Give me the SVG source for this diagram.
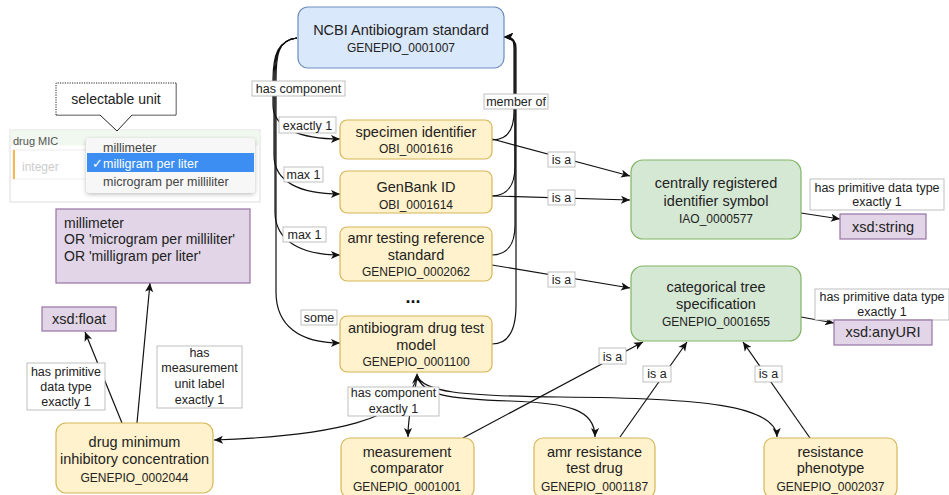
<svg xmlns="http://www.w3.org/2000/svg" width="949" height="495" viewBox="0 0 949 495">
<defs>
<marker id="arr" viewBox="0 0 10 10" refX="10" refY="5" markerWidth="9" markerHeight="9" markerUnits="userSpaceOnUse" orient="auto">
<path d="M0,0.5 L10,5 L0,9.5 L2.5,5 z" fill="#111"/>
</marker>
<filter id="shadow" x="-10%" y="-20%" width="120%" height="150%">
<feDropShadow dx="0" dy="1.5" stdDeviation="2" flood-color="#000" flood-opacity="0.25"/>
</filter>
</defs>
<style>
text{font-family:"Liberation Sans",Arial,Helvetica,sans-serif;fill:#222}
.t{font-size:14.5px;text-anchor:middle}
.id{font-size:12px;text-anchor:middle}
.lb{font-size:12.5px;text-anchor:middle}
.yel{fill:#fff2cc;stroke:#d6b656;stroke-width:1.2}
.grn{fill:#d5e8d4;stroke:#82b366;stroke-width:1.2}
.blu{fill:#dae8fc;stroke:#6c8ebf;stroke-width:1.2}
.pur{fill:#e1d5e7;stroke:#9673a6;stroke-width:1.2}
.e{fill:none;stroke:#111;stroke-width:1.2}
.ea{fill:none;stroke:#111;stroke-width:1.2;marker-end:url(#arr)}
.lr{fill:#fff;stroke:#b0b0b0;stroke-width:0.8}
</style>

<!-- UI screenshot -->
<g id="ui-panel">
<rect x="10" y="130" width="250" height="72" fill="#fff" stroke="#ddd" stroke-width="1"/>
<rect x="10.5" y="130.5" width="249" height="15" fill="#f1f8ef"/>
<text x="13" y="145" style="font-size:11px;fill:#555">drug MIC</text>
<rect x="13" y="150" width="150" height="29" fill="#fff" stroke="#eee"/>
<rect x="13" y="150" width="2" height="29" fill="#f6b84a"/>
<text x="22" y="171" style="font-size:12px;fill:#ccc">integer</text>
</g>
<g id="ui-dropdown">
<rect x="86" y="138" width="169" height="55" rx="4" fill="#f7f7f7" filter="url(#shadow)"/>
<rect x="87" y="153" width="167" height="19" fill="#3c8ef3"/>
<text x="103" y="152" style="font-size:12.5px;fill:#444">millimeter</text>
<text x="92" y="168" style="font-size:12.5px;fill:#fff">✓</text>
<text x="103" y="168" style="font-size:12.5px;fill:#fff">milligram per liter</text>
<text x="103" y="186" style="font-size:12.5px;fill:#444">microgram per milliliter</text>
</g>
<g id="callout">
<path d="M176,83 L176,115 L132,115 L117,131 L100,115 L56,115" fill="#fff" stroke="#222" stroke-width="1"/>
<rect x="56.5" y="83.5" width="119" height="31" fill="#fff"/>
<path d="M56,115 L56,83 L176,83" fill="none" stroke="#222" stroke-width="1" stroke-dasharray="1.2,1.2"/>
<text x="116" y="104" style="font-size:14px;text-anchor:middle">selectable unit</text>
</g>

<!-- connectors -->
<g id="connectors">
<path class="ea" d="M297,38 C278,40 273,55 273,80 L273,105 C273,128 300,139 340,139"/>
<path class="ea" d="M297,38 C278,40 274,55 274,80 L274,155 C274,182 300,194 340,194"/>
<path class="ea" d="M297,38 C278,40 275,55 275,80 L275,212 C275,240 300,255 340,255"/>
<path class="ea" d="M297,38 C278,40 276,55 276,80 L276,292 C276,326 300,343 340,343"/>
<path class="ea" d="M492,140 C508,140 514,128 514,112 L514,48 C514,40 512,37 504,37"/>
<path class="ea" d="M492,196 C508,196 515,184 515,166 L515,48 C515,40 512,37 504,37"/>
<path class="ea" d="M492,255 C508,255 515,243 515,225 L515,48 C515,40 512,37 504,37"/>
<path class="ea" d="M492,344 C509,344 516,330 516,305 L516,48 C516,40 512,37 504,37"/>
<path class="ea" d="M492,139 L630,176"/>
<path class="ea" d="M492,196 L630,200"/>
<path class="ea" d="M492,265 L630,288"/>
<path class="ea" d="M801,213 L840,219"/>
<path class="ea" d="M801,317 L834,323"/>
<path class="ea" d="M463,438 L643,342"/>
<path class="ea" d="M620,437 L687,342"/>
<path class="ea" d="M810,438 L743,342"/>
<path class="ea" d="M122,423 L85,332"/>
<path class="ea" d="M137,423 L150,283"/>
<path class="ea" d="M417,375 C410,420 330,436 214,440"/>
<path class="ea" d="M417,375 C422,396 450,399 510,401 C570,403 595,410 595,437"/>
<path class="ea" d="M417,375 C422,392 460,396 560,397 C700,398 776,405 777,437"/>
<path class="ea" d="M417,375 C415,400 408,405 408,437"/>
<path d="M412,384 L417,373 L422,384 L417,380 z" fill="#111"/>

<g id="lbl-has-component"><rect class="lr" x="252" y="81" width="93" height="15"/><text class="lb" x="298.5" y="93">has component</text></g>
<g id="lbl-member-of"><rect class="lr" x="484" y="94" width="64" height="15"/><text class="lb" x="516" y="105.5">member of</text></g>
<g id="lbl-exactly1"><rect class="lr" x="279" y="117" width="57" height="16"/><text class="lb" x="307.5" y="129.5">exactly 1</text></g>
<g id="lbl-max1a"><rect class="lr" x="284" y="167" width="39" height="15"/><text class="lb" x="303.5" y="179">max 1</text></g>
<g id="lbl-max1b"><rect class="lr" x="283" y="227" width="43" height="15"/><text class="lb" x="304.5" y="239">max 1</text></g>
<g id="lbl-some"><rect class="lr" x="301" y="310" width="36" height="15"/><text class="lb" x="319" y="322">some</text></g>
<g id="lbl-isa1"><rect class="lr" x="548" y="152" width="27" height="15"/><text class="lb" x="561.5" y="164">is a</text></g>
<g id="lbl-isa2"><rect class="lr" x="548" y="190" width="27" height="15"/><text class="lb" x="561.5" y="202">is a</text></g>
<g id="lbl-isa3"><rect class="lr" x="548" y="272" width="27" height="15"/><text class="lb" x="561.5" y="284">is a</text></g>
<g id="lbl-prim1"><rect class="lr" x="810" y="179" width="134" height="31"/><text class="lb" x="877" y="192">has primitive data type</text><text class="lb" x="877" y="206">exactly 1</text></g>
<g id="lbl-prim2"><rect class="lr" x="815" y="289" width="134" height="31"/><text class="lb" x="882" y="301">has primitive data type</text><text class="lb" x="882" y="316">exactly 1</text></g>
<g id="lbl-isa4"><rect class="lr" x="599" y="348" width="27" height="16"/><text class="lb" x="612.5" y="360.5">is a</text></g>
<g id="lbl-isa5"><rect class="lr" x="643" y="366" width="28" height="16"/><text class="lb" x="657" y="378">is a</text></g>
<g id="lbl-isa6"><rect class="lr" x="755" y="366" width="27" height="16"/><text class="lb" x="768.5" y="378">is a</text></g>
<g id="lbl-hc-exactly1"><rect class="lr" x="348" y="387" width="91" height="29"/><text class="lb" x="393.5" y="397">has component</text><text class="lb" x="393.5" y="413">exactly 1</text></g>
<g id="lbl-prim3"><rect class="lr" x="27" y="363" width="78" height="47"/><text class="lb" x="66" y="376">has primitive</text><text class="lb" x="66" y="391">data type</text><text class="lb" x="66" y="406">exactly 1</text></g>
<g id="lbl-unit"><rect class="lr" x="157" y="346" width="85" height="62"/><text class="lb" x="199.5" y="357">has</text><text class="lb" x="199.5" y="372">measurement</text><text class="lb" x="199.5" y="388">unit label</text><text class="lb" x="199.5" y="404">exactly 1</text></g>
</g>

<!-- nodes -->
<g id="ncbi"><rect class="blu" x="298" y="7" width="206" height="61" rx="10"/><text class="t" x="401" y="35">NCBI Antibiogram standard</text><text class="id" x="401" y="52">GENEPIO_0001007</text></g>
<g id="specimen"><rect class="yel" x="340" y="120" width="152" height="39" rx="7"/><text class="t" x="416" y="137">specimen identifier</text><text class="id" x="416" y="153">OBI_0001616</text></g>
<g id="genbank"><rect class="yel" x="340" y="171" width="152" height="42" rx="7"/><text class="t" x="416" y="192">GenBank ID</text><text class="id" x="416" y="209">OBI_0001614</text></g>
<g id="amrref"><rect class="yel" x="340" y="227" width="152" height="54" rx="7"/><text class="t" x="416" y="243">amr testing reference</text><text class="t" x="416" y="260">standard</text><text class="id" x="416" y="276">GENEPIO_0002062</text></g>
<text x="413" y="303" style="font-size:18px;font-weight:bold;text-anchor:middle;fill:#111">...</text>
<g id="antibiogram"><rect class="yel" x="340" y="316" width="152" height="56" rx="7"/><text class="t" x="416" y="333">antibiogram drug test</text><text class="t" x="416" y="350">model</text><text class="id" x="416" y="366">GENEPIO_0001100</text></g>
<g id="central"><rect class="grn" x="631" y="160" width="170" height="79" rx="12"/><text class="t" x="716" y="188">centrally registered</text><text class="t" x="716" y="206">identifier symbol</text><text class="id" x="716" y="223">IAO_0000577</text></g>
<g id="categorical"><rect class="grn" x="631" y="266" width="170" height="75" rx="12"/><text class="t" x="716" y="292">categorical tree</text><text class="t" x="716" y="309">specification</text><text class="id" x="716" y="326">GENEPIO_0001655</text></g>
<g id="xsd-string"><rect class="pur" x="840" y="214" width="86" height="25"/><text class="t" x="883" y="232">xsd:string</text></g>
<g id="xsd-anyuri"><rect class="pur" x="834" y="320" width="98" height="25"/><text class="t" x="883" y="337">xsd:anyURI</text></g>
<g id="units"><rect class="pur" x="56" y="209" width="194" height="74"/><text x="64" y="228" style="font-size:14px">millimeter</text><text x="64" y="244" style="font-size:14px">OR 'microgram per milliliter'</text><text x="64" y="261" style="font-size:14px">OR 'milligram per liter'</text></g>
<g id="xsd-float"><rect class="pur" x="42" y="307" width="74" height="24"/><text class="t" x="79" y="324">xsd:float</text></g>
<g id="drugmic"><rect class="yel" x="56" y="423" width="157" height="70" rx="10"/><text class="t" x="134.5" y="447">drug minimum</text><text class="t" x="134.5" y="464">inhibitory concentration</text><text class="id" x="134.5" y="482">GENEPIO_0002044</text></g>
<g id="comparator"><rect class="yel" x="341" y="438" width="133" height="60" rx="9"/><text class="t" x="407" y="457">measurement</text><text class="t" x="407" y="473">comparator</text><text class="id" x="407" y="491">GENEPIO_0001001</text></g>
<g id="testdrug"><rect class="yel" x="534" y="438" width="121" height="60" rx="9"/><text class="t" x="594.5" y="457">amr resistance</text><text class="t" x="594.5" y="473">test drug</text><text class="id" x="594.5" y="491">GENEPIO_0001187</text></g>
<g id="phenotype"><rect class="yel" x="764" y="438" width="133" height="60" rx="9"/><text class="t" x="830.5" y="457">resistance</text><text class="t" x="830.5" y="473">phenotype</text><text class="id" x="830.5" y="491">GENEPIO_0002037</text></g>
</svg>
